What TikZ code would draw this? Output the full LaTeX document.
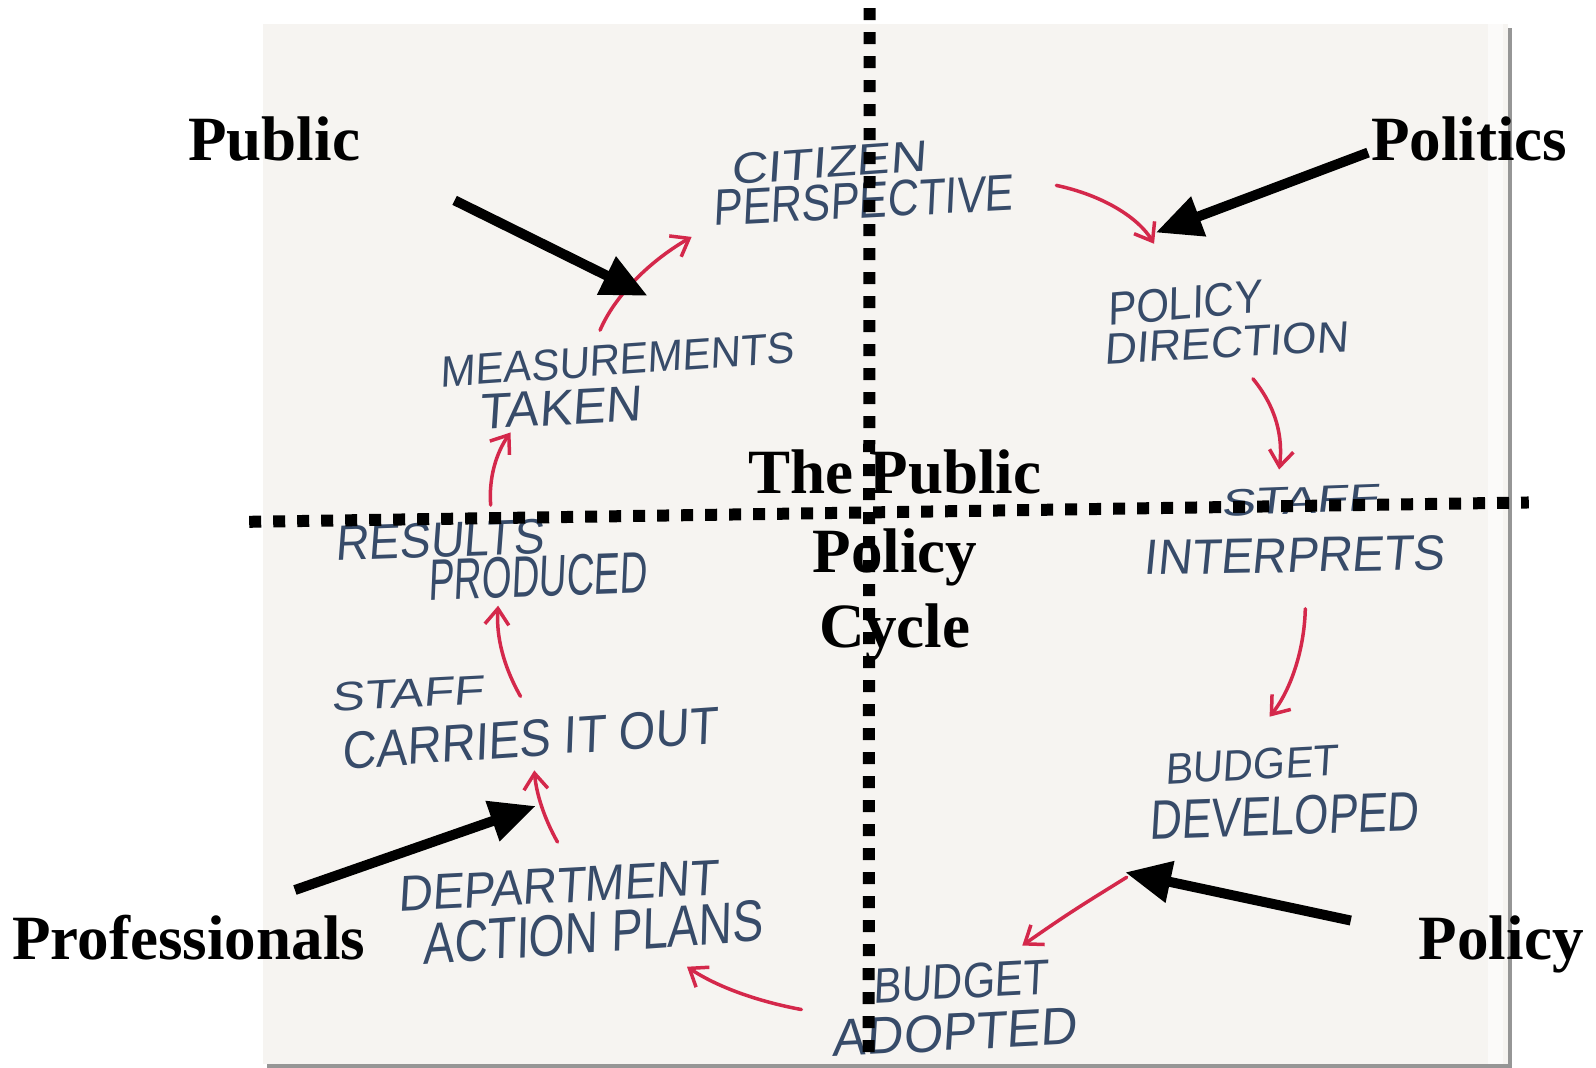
\documentclass[tikz,border=0pt]{standalone}
\usepackage{fontspec}
\usepackage{graphicx}
\setmainfont{Liberation Serif}
\newfontfamily\hwf[FakeSlant=0.12]{Liberation Sans}
\usetikzlibrary{arrows.meta}
\definecolor{paper}{RGB}{246,244,241}
\definecolor{shadowgray}{RGB}{150,150,150}
\definecolor{inkblue}{RGB}{55,75,105}
\definecolor{inkred}{RGB}{212,40,75}
\newcommand{\hw}[3]{\resizebox{#1pt}{#2pt}{\hwf #3}}
\tikzset{
  hand/.style={inner sep=0pt, text=inkblue, anchor=center},
  redarrow/.style={draw=inkred, line width=3.5pt, line cap=round, -{Straight Barb[length=16pt,width=24pt,line width=3.5pt]}},
  bigarrow/.style={draw=black, line width=10pt, -{Triangle[length=46pt,width=40pt]}, shorten >=-2pt},
  dotline/.style={draw=black, line width=12pt, dash pattern=on 12pt off 12pt},
  label/.style={inner sep=0pt, font=\bfseries\fontsize{62}{72}\selectfont, anchor=base west},
  cyc/.style={inner sep=0pt, font=\bfseries\fontsize{62}{72}\selectfont, anchor=base}
}
\begin{document}
\begin{tikzpicture}[x=1pt,y=-1pt]
\useasboundingbox (0,0) rectangle (1596,1068);
\fill[white] (0,0) rectangle (1596,1068);
% paper sheet with shadow
\fill[shadowgray] (267,28) rectangle (1512,1068);
\fill[paper] (263,24) rectangle (1508,1064);
\fill[white!55!paper] (1488,24) rectangle (1503,1064);

\begin{scope}[scale=1.017, every node/.append style={transform shape}]
% handwritten items
\node[hand, rotate=4] (cit1) at (814,160) {\hw{192}{30}{CITIZEN}};
\node[hand, rotate=3] (cit2) at (848,197) {\hw{295}{35}{PERSPECTIVE}};
\node[hand, rotate=5] (pol1) at (1164,298) {\hw{152}{32}{POLICY}};
\node[hand, rotate=3] (pol2) at (1205,337) {\hw{240}{30}{DIRECTION}};
\node[hand, rotate=2] (sta1) at (1278,492) {\hw{155}{26}{STAFF}};
\node[hand, rotate=1] (sta2) at (1272,546) {\hw{295}{34}{INTERPRETS}};
\node[hand, rotate=3] (bud1) at (1230,752) {\hw{170}{30}{BUDGET}};
\node[hand, rotate=2] (bud2) at (1262,802) {\hw{265}{38}{DEVELOPED}};
\node[hand, rotate=3] (ado1) at (944,965) {\hw{172}{34}{BUDGET}};
\node[hand, rotate=3] (ado2) at (938,1015) {\hw{240}{36}{ADOPTED}};
\node[hand, rotate=3] (dep1) at (548,871) {\hw{315}{34}{DEPARTMENT}};
\node[hand, rotate=4] (dep2) at (582,917) {\hw{335}{40}{ACTION PLANS}};
\node[hand, rotate=3] (car1) at (400,682) {\hw{150}{28}{STAFF}};
\node[hand, rotate=4] (car2) at (520,726) {\hw{370}{36}{CARRIES IT OUT}};
\node[hand, rotate=2] (res1) at (432,531) {\hw{205}{34}{RESULTS}};
\node[hand, rotate=2] (res2) at (528,567) {\hw{215}{40}{PRODUCED}};
\node[hand, rotate=4] (mea1) at (606,354) {\hw{348}{30}{MEASUREMENTS}};
\node[hand, rotate=3] (mea2) at (550,401) {\hw{160}{34}{TAKEN}};

% red cycle arrows
\draw[redarrow] ([shift={(-15,-14)}]mea1.north) .. controls +(15,-35) and +(-40,23) .. ([shift={(-169,18)}]cit2.south);
\draw[redarrow] ([shift={(43,-7)}]cit2.east) .. controls +(47,10) and +(-15,-25) .. ([shift={(-28,-42)}]pol1.north);
\draw[redarrow] ([shift={(26,20)}]pol2.south) .. controls +(23,28) and +(4,-32) .. ([shift={(-20,-17)}]sta1.north);
\draw[redarrow] ([shift={(11,35)}]sta2.south) .. controls +(-1,42) and +(20,-25) .. ([shift={(19,-32)}]bud1.north);
\draw[redarrow] ([shift={(-155,41)}]bud2.south) .. controls +(-40,25) and +(50,-35) .. ([shift={(62,-18)}]ado1.north);
\draw[redarrow] ([shift={(-70,23)}]ado1.west) .. controls +(-43,-8) and +(30,20) .. ([shift={(92,13)}]dep2.south);
\draw[redarrow] ([shift={(1,-26)}]dep1.north) .. controls +(-13,-23) and +(2,23) .. ([shift={(4,13)}]car2.south);
\draw[redarrow] ([shift={(-7,-23)}]car2.north) .. controls +(-17,-30) and +(-2,30) .. ([shift={(-39,8)}]res2.south);
\draw[redarrow] ([shift={(51,-17)}]res1.north) .. controls +(-2,-27) and +(-14,20) .. ([shift={(-49,7)}]mea2.south);

% dotted axes
\coordinate (vtop) at (855,8);
\coordinate (vbot) at (854,1046);
\coordinate (hleft) at (245,513);
\coordinate (hright) at (1503,494);
\draw[dotline] (vtop) -- (vbot);
\draw[dotline] (hleft) -- (hright);

% centre title
\node[cyc] (cyc1) at (880,485) {The Public};
\node[cyc] (cyc2) at (880,563) {Policy};
\node[cyc] (cyc3) at (880,637) {Cycle};

% corner labels
\node[label] (lpub) at (185,158) {Public};
\node[label] (lpol) at (1348,158) {Politics};
\node[label] (lpro) at (12,943) {Professionals};
\node[label] (lpcy) at (1395,943) {Policy};

% black pointer arrows
\coordinate (tpub) at (635,290);
\coordinate (tpol) at (1138,228);
\coordinate (tpro) at (525,793);
\coordinate (tpcy) at (1108,858);
\draw[bigarrow] ([shift={(262,39)}]lpub.base west) -- (tpub);
\draw[bigarrow] ([shift={(-3,-8)}]lpol.base west) -- (tpol);
\draw[bigarrow] ([shift={(278,-68)}]lpro.base west) -- (tpro);
\draw[bigarrow] ([shift={(-67,-38)}]lpcy.base west) -- (tpcy);
\end{scope}
\end{tikzpicture}
\end{document}
